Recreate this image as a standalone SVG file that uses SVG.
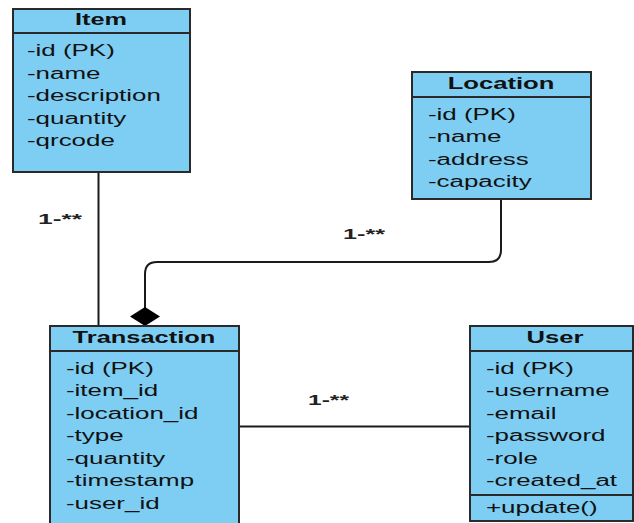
<svg xmlns="http://www.w3.org/2000/svg" width="634" height="523" viewBox="0 0 634 523">
  <style>
    .box { fill: #7ECEF4; stroke: #2a2a2a; stroke-width: 2; }
    .sep { stroke: #2a2a2a; stroke-width: 2; }
    .edge { fill: none; stroke: #1a1a1a; stroke-width: 2; }
    .hd { font-family: "Liberation Sans", Arial, sans-serif; font-size: 16px; font-weight: bold; fill: #111; text-anchor: middle; }
    .at { font-family: "Liberation Sans", Arial, sans-serif; font-size: 16px; fill: #111; }
    .lbl { font-family: "Liberation Sans", Arial, sans-serif; font-size: 14px; font-weight: bold; fill: #222; }
  </style>
  <rect width="634" height="523" fill="#ffffff"/>

  <!-- connectors -->
  <g id="connectors">
    <line class="edge" x1="98.5" y1="172" x2="98.5" y2="326"/>
    <path class="edge" d="M501,199 V250 Q501,262 489,262 H157 Q145,262 145,274 V308"/>
    <polygon points="145,307 160,316.5 145,326 130,316.5" fill="#000"/>
    <line class="edge" x1="239" y1="426.5" x2="470" y2="426.5"/>
    <text class="lbl" x="38" y="224" textLength="44" lengthAdjust="spacingAndGlyphs">1-**</text>
    <text class="lbl" x="343" y="239" textLength="42" lengthAdjust="spacingAndGlyphs">1-**</text>
    <text class="lbl" x="308" y="405" textLength="41" lengthAdjust="spacingAndGlyphs">1-**</text>
  </g>

  <!-- Item -->
  <g id="item">
    <rect class="box" x="13" y="9" width="177" height="163"/>
    <line class="sep" x1="13" y1="33" x2="190" y2="33"/>
    <g transform="translate(101 0) scale(1.58 1)">
      <text class="hd" x="0" y="25">Item</text>
    </g>
    <g transform="translate(27 0) scale(1.62 1)">
      <text class="at" x="0" y="56.5">-id (PK)</text>
      <text class="at" x="0" y="79">-name</text>
      <text class="at" x="0" y="101.5">-description</text>
      <text class="at" x="0" y="124">-quantity</text>
      <text class="at" x="0" y="146.5">-qrcode</text>
    </g>
  </g>

  <!-- Location -->
  <g id="location">
    <rect class="box" x="412" y="72" width="179" height="127"/>
    <line class="sep" x1="412" y1="97" x2="591" y2="97"/>
    <g transform="translate(501 0) scale(1.6 1)">
      <text class="hd" x="0" y="89">Location</text>
    </g>
    <g transform="translate(428 0) scale(1.62 1)">
      <text class="at" x="0" y="120">-id (PK)</text>
      <text class="at" x="0" y="142.5">-name</text>
      <text class="at" x="0" y="165">-address</text>
      <text class="at" x="0" y="187.5">-capacity</text>
    </g>
  </g>

  <!-- Transaction -->
  <g id="transaction">
    <rect class="box" x="50" y="326" width="189" height="210"/>
    <line class="sep" x1="50" y1="351" x2="239" y2="351"/>
    <g transform="translate(144 0) scale(1.59 1)">
      <text class="hd" x="0" y="343.5">Transaction</text>
    </g>
    <g transform="translate(66 0) scale(1.62 1)">
      <text class="at" x="0" y="374">-id (PK)</text>
      <text class="at" x="0" y="396.5">-item_id</text>
      <text class="at" x="0" y="419">-location_id</text>
      <text class="at" x="0" y="441.5">-type</text>
      <text class="at" x="0" y="464">-quantity</text>
      <text class="at" x="0" y="486.5">-timestamp</text>
      <text class="at" x="0" y="509">-user_id</text>
    </g>
  </g>

  <!-- User -->
  <g id="user">
    <rect class="box" x="470" y="326" width="163" height="195"/>
    <line class="sep" x1="470" y1="351" x2="633" y2="351"/>
    <line class="sep" x1="470" y1="495" x2="633" y2="495"/>
    <g transform="translate(555 0) scale(1.6 1)">
      <text class="hd" x="0" y="343">User</text>
    </g>
    <g transform="translate(486 0) scale(1.62 1)">
      <text class="at" x="0" y="374">-id (PK)</text>
      <text class="at" x="0" y="396.5">-username</text>
      <text class="at" x="0" y="419">-email</text>
      <text class="at" x="0" y="441.5">-password</text>
      <text class="at" x="0" y="464">-role</text>
      <text class="at" x="0" y="486.5">-created_at</text>
      <text class="at" x="0" y="513">+update()</text>
    </g>
  </g>
</svg>
